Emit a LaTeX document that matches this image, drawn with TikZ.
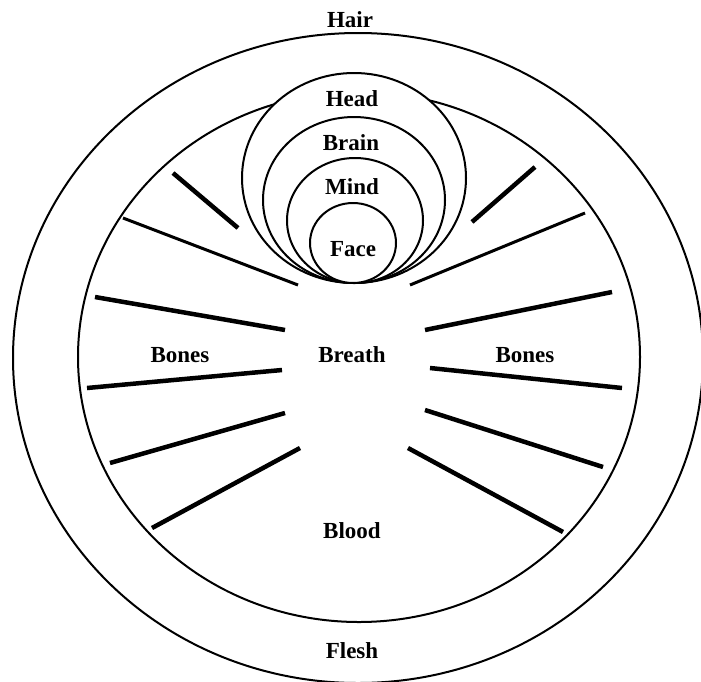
\documentclass[tikz,border=0pt]{standalone}
\usepackage{fontspec}
\setmainfont{Liberation Serif}

\begin{document}
\begin{tikzpicture}[x=1pt, y=-1pt,
    ring/.style={line width=2pt},
    disc/.style={line width=2pt, fill=white},
    bone/.style={line width=4.5pt},
    thinbone/.style={line width=3pt},
    word/.style={anchor=base, inner sep=0pt, font=\fontsize{23}{27}\selectfont\bfseries}]
                \useasboundingbox[fill=white] (0,0) rectangle (701,681);
                % body and flesh
                \draw[ring] (358,358) ellipse [x radius=345pt, y radius=325pt];
                \draw[ring] (359,357) ellipse [x radius=281pt, y radius=265pt];
                % head, brain, mind, face
                \draw[disc] (354,178) ellipse [x radius=112pt, y radius=105pt];
                \draw[disc] (354,200) ellipse [x radius=91pt, y radius=83pt];
                \draw[disc] (355,220.5) ellipse [x radius=68pt, y radius=62.5pt];
                \draw[disc] (353,243) ellipse [x radius=43pt, y radius=40pt];
                % bones
                \foreach \xa/\ya/\xb/\yb in {173/173/238/228, 95/297/285/330,
                    87/388/282/370, 110/463/285/413, 152/528/300/448,
                    535/167/472/222, 612/292/425/330, 430/368/622/388,
                    425/410/603/467, 408/448/563/532}
                    \draw[bone] (\xa,\ya) -- (\xb,\yb);
                \draw[thinbone] (123,218) -- (298,285);
                \draw[thinbone] (585,213) -- (410,285);
                % labels
                \node[word] (hair) at (350,27) {Hair};
                \node[word] (head) at (352,106) {Head};
                \node[word] (brain) at (351,150) {Brain};
                \node[word] (mind) at (352,194) {Mind};
                \node[word] (face) at (353,256) {Face};
                \node[word] (breath) at (352,362) {Breath};
                \node[word] (bonesL) at (180,362) {Bones};
                \node[word] (bonesR) at (525,362) {Bones};
                \node[word] (blood) at (352,538) {Blood};
                \node[word] (flesh) at (352,658) {Flesh};
            \end{tikzpicture}
\end{document}
